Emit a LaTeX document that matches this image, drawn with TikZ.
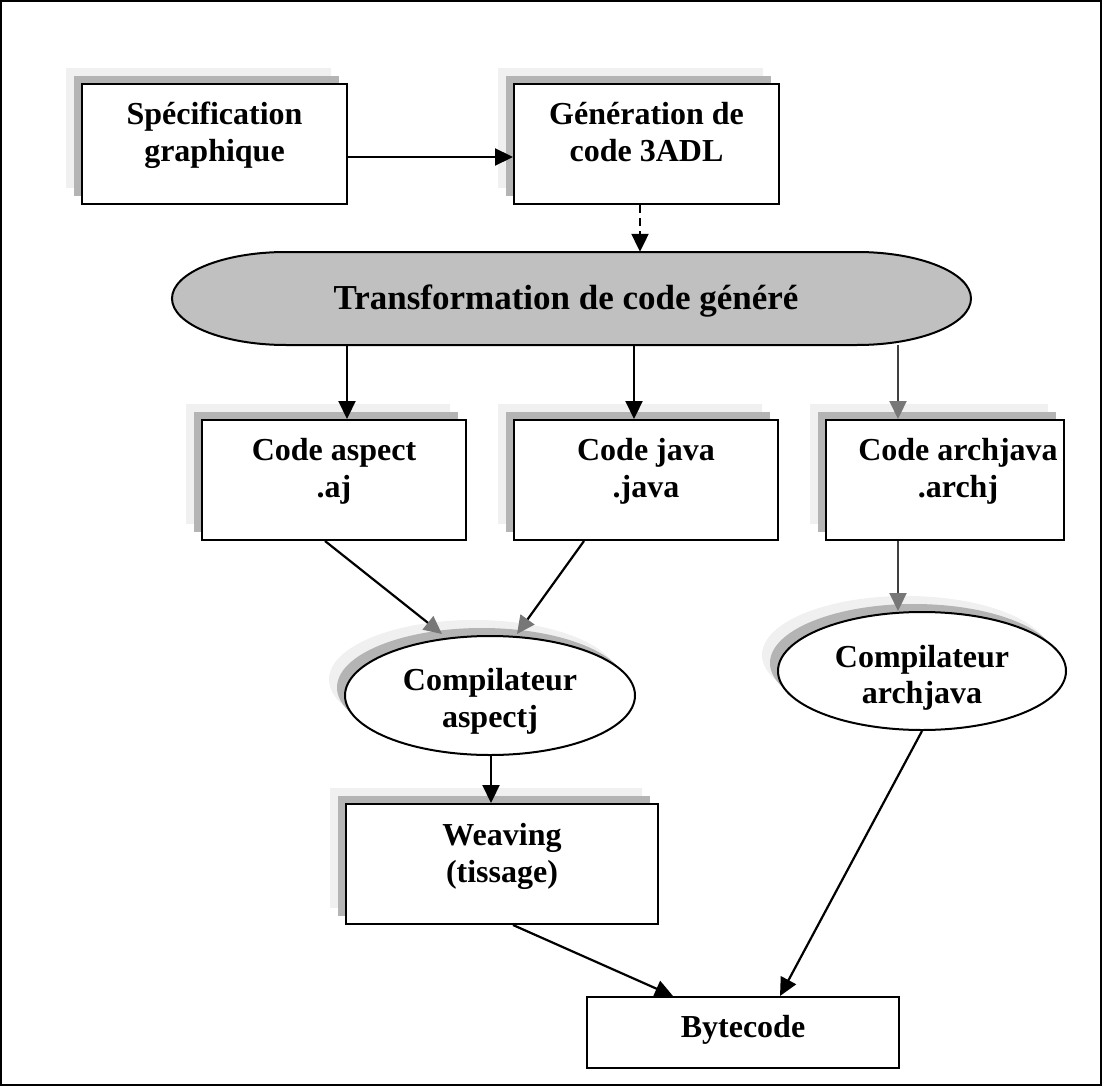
\documentclass[tikz,border=0pt]{standalone}
\usepackage{fontspec}
\setmainfont{Liberation Serif}
\usetikzlibrary{arrows.meta,shapes.geometric,calc}
\definecolor{shlight}{HTML}{F0F0F0}
\definecolor{shdark}{HTML}{B4B4B4}
\definecolor{ellfill}{HTML}{C0C0C0}
\definecolor{tipgray}{HTML}{777777}
\newcommand{\myshadowrect}[4]{%
  \fill[shlight] (#1-16,#2-16) rectangle (#3-16,#4-16);
  \fill[shdark] (#1-8,#2-8) rectangle (#3-8,#4-8);}
\newcommand{\myshadowell}[4]{%
  \fill[shlight] (#1-16,#2-16) ellipse [x radius=#3, y radius=#4];
  \fill[shdark] (#1-8,#2-8) ellipse [x radius=#3, y radius=#4];}
\tikzset{
  boxn/.style={draw=black, line width=2, fill=white, inner sep=0pt},
  elln/.style={ellipse, draw=black, line width=2, fill=white, inner sep=0pt},
  lbl/.style={anchor=base, inner sep=0pt, font=\fontsize{32}{37}\selectfont\bfseries},
  arr/.style={line width=2.2, -{Triangle[length=18pt,width=17pt]}},
  garr/.style={line width=2.2, -{Triangle[length=18pt,width=17pt,color=tipgray]}},
}
\begin{document}
\begin{tikzpicture}[x=1pt,y=-1pt]
\useasboundingbox (0,0) rectangle (1102,1086);
\draw[line width=2] (1,1) rectangle (1101,1085);

% shadows
\myshadowrect{82}{84}{347}{204}
\myshadowrect{514}{84}{779}{204}
\myshadowrect{202}{420}{466}{540}
\myshadowrect{514}{420}{778}{540}
\myshadowrect{826}{420}{1064}{540}
\myshadowrect{346}{804}{658}{924}
\myshadowell{490}{695.5}{145}{59.5}
\myshadowell{922}{671}{144}{59}

% boxes
\node[boxn, minimum width=265, minimum height=120] (spec) at (214.5,144) {};
\node[boxn, minimum width=265, minimum height=120] (gen) at (646.5,144) {};
\node[boxn, minimum width=264, minimum height=120] (aspect) at (334,480) {};
\node[boxn, minimum width=264, minimum height=120] (java) at (646,480) {};
\node[boxn, minimum width=238, minimum height=120] (archj) at (945,480) {};
\node[boxn, minimum width=312, minimum height=120] (weav) at (502,864) {};
\node[boxn, minimum width=312, minimum height=71] (byte) at (743,1032.5) {};
\node[elln, minimum width=290, minimum height=119] (ca) at (490,695.5) {};
\node[elln, minimum width=288, minimum height=118] (cj) at (922,671) {};

% transformation shape
\node[inner sep=0pt, minimum width=799, minimum height=93] (trans) at (571.5,298.5) {};
\draw[line width=2, fill=ellfill] (286,252) -- (857,252)
  arc[start angle=-90, end angle=90, x radius=114, y radius=46.5]
  -- (286,345)
  arc[start angle=90, end angle=270, x radius=114, y radius=46.5] -- cycle;

% labels
\node[lbl] (t1) at (214.5,125) {Spécification};
\node[lbl] (t2) at (214.5,162) {graphique};
\node[lbl] (t3) at (646.5,125) {Génération de};
\node[lbl] (t4) at (646.5,162) {code 3ADL};
\node[lbl, font=\fontsize{35}{40}\selectfont\bfseries] (t5) at (566,309) {Transformation de code généré};
\node[lbl] (t6) at (334,460) {Code aspect};
\node[lbl] (t7) at (334,497) {.aj};
\node[lbl] (t8) at (646,460) {Code java};
\node[lbl] (t9) at (646,497) {.java};
\node[lbl] (t10) at (958,460) {Code archjava};
\node[lbl] (t11) at (958,497) {.archj};
\node[lbl] (t12) at (490,690) {Compilateur};
\node[lbl] (t13) at (490,727) {aspectj};
\node[lbl] (t14) at (922,667) {Compilateur};
\node[lbl] (t15) at (922,703) {archjava};
\node[lbl] (t16) at (502,845) {Weaving};
\node[lbl] (t17) at (502,882) {(tissage)};
\node[lbl] (t18) at (743,1037) {Bytecode};

% connectors
\draw[arr] ([yshift=-13pt]spec.east) -- ([yshift=-13pt]gen.west);
\draw[arr, dashed, dash pattern=on 8pt off 5pt] ([xshift=-6.5pt]gen.south) -- ([xshift=68.5pt]trans.north);
\coordinate (ta) at ([xshift=13pt]aspect.north);
\coordinate (tj) at ([xshift=-12pt]java.north);
\coordinate (tr) at ([xshift=-47pt]archj.north);
\draw[arr] (trans.south -| ta) -- (ta);
\draw[arr] (trans.south -| tj) -- (tj);
\draw[garr, draw=black!75] (trans.south -| tr) -- (tr);
\coordinate (ca1) at ([xshift=-48pt,yshift=1pt]ca.north);
\coordinate (ca2) at ([xshift=27pt,yshift=1pt]ca.north);
\draw[garr] ([xshift=-9pt]aspect.south) -- (ca1);
\draw[garr] ([xshift=-62pt]java.south) -- (ca2);
\coordinate (cjt) at ([xshift=-24pt]cj.north);
\draw[garr, draw=black!75] ([xshift=-47pt]archj.south) -- (cjt);
\draw[arr] ([xshift=1pt]ca.south) -- ([xshift=-11pt]weav.north);
\draw[arr] ([xshift=11pt]weav.south) -- ([xshift=-70pt]byte.north);
\draw[arr] (cj.south) -- ([xshift=37pt]byte.north);
\end{tikzpicture}
\end{document}
